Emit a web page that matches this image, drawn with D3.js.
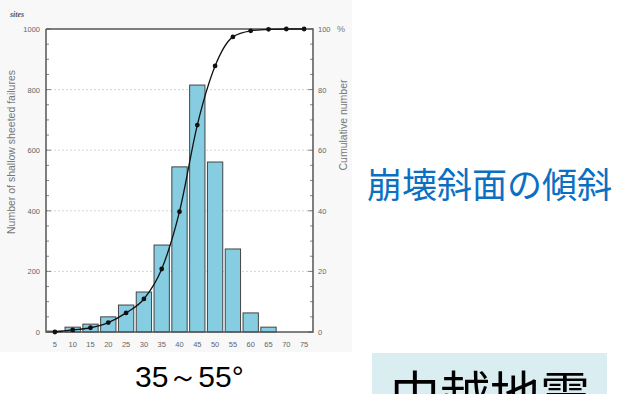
<!DOCTYPE html>
<html>
<head>
<meta charset="utf-8">
<script src="https://cdn.jsdelivr.net/npm/d3@7"></script>
<style>
  body { margin: 0; background: #fff; }
  svg { display: block; }
  .tick text { font-family: "Liberation Sans", Arial, sans-serif; font-size: 7.5px; fill: #666; }
</style>
</head>
<body>
<svg width="623" height="394"></svg>
<script>
// slope angle classes (degrees)
var angles = ["5", "10", "15", "20", "25", "30", "35", "40", "45", "50", "55", "60", "65", "70", "75"];
// number of shallow failures per class
var counts = [3, 16, 26, 50, 89, 132, 287, 545, 815, 561, 274, 63, 16, 0, 0];
// cumulative number (%)
var cumPct = [0, 0.7, 1.4, 3.1, 6.3, 10.9, 20.8, 39.7, 68.3, 87.8, 97.4, 99.4, 99.9, 100, 100];
var countTicks = [0, 200, 400, 600, 800, 1000];
var pctTicks = [0, 20, 40, 60, 80, 100];

var svg = d3.select("svg");

var pl = 46, pr = 313, pt = 29, pb = 332;

// light background of the figure picture
svg.append("rect")
    .attr("x", 0).attr("y", 0)
    .attr("width", 352).attr("height", 352)
    .attr("fill", "#f8f8f8");
svg.append("rect")
    .attr("x", pl).attr("y", pt)
    .attr("width", pr - pl).attr("height", pb - pt)
    .attr("fill", "#fff");

var x = d3.scaleBand().domain(angles).range([pl, pr]).paddingInner(0.14).paddingOuter(0.07);
var y = d3.scaleLinear().domain([0, 1000]).range([pb, pt]);
var yp = d3.scaleLinear().domain([0, 100]).range([pb, pt]);

// grid
svg.append("g")
    .selectAll("line")
    .data(countTicks.slice(1, -1))
    .enter().append("line")
    .attr("x1", pl).attr("x2", pr)
    .attr("y1", function(d) { return y(d); })
    .attr("y2", function(d) { return y(d); })
    .attr("stroke", "#ccc")
    .attr("stroke-width", 0.8)
    .attr("stroke-dasharray", "2,2");

// bars
svg.append("g")
    .selectAll("rect")
    .data(counts)
    .enter().append("rect")
    .attr("x", function(d, i) { return x(angles[i]); })
    .attr("y", function(d) { return y(d); })
    .attr("width", x.bandwidth())
    .attr("height", function(d) { return pb - y(d); })
    .attr("fill", "#86cde2")
    .attr("stroke", "#444")
    .attr("stroke-width", 1);

// axes
var leftAxis = d3.axisRight(y).tickValues(countTicks).tickSize(0).tickFormat(d3.format("d"));
var gl = svg.append("g").attr("transform", "translate(" + pl + ",0)").call(leftAxis);
gl.select(".domain").remove();
gl.selectAll("text").attr("x", -6).attr("text-anchor", "end");

var rightAxis = d3.axisLeft(yp).tickValues(pctTicks).tickSize(0);
var gr = svg.append("g").attr("transform", "translate(" + pr + ",0)").call(rightAxis);
gr.select(".domain").remove();
gr.selectAll("text").attr("x", 5).attr("text-anchor", "start");

var bottomAxis = d3.axisBottom(x).tickSize(0);
var gb = svg.append("g").attr("transform", "translate(0," + pb + ")").call(bottomAxis);
gb.select(".domain").remove();
gb.selectAll("text").attr("y", 10);

// minor / major tick marks pointing inward
svg.append("g")
    .selectAll("line")
    .data(d3.range(0, 1001, 50))
    .enter().append("line")
    .attr("x1", pl).attr("x2", function(d) { return pl + (d % 200 == 0 ? 5 : 3); })
    .attr("y1", function(d) { return y(d); }).attr("y2", function(d) { return y(d); })
    .attr("stroke", "#666").attr("stroke-width", 0.8);
svg.append("g")
    .selectAll("line")
    .data(d3.range(0, 101, 5))
    .enter().append("line")
    .attr("x1", pr).attr("x2", function(d) { return pr - (d % 20 == 0 ? 5 : 3); })
    .attr("y1", function(d) { return yp(d); }).attr("y2", function(d) { return yp(d); })
    .attr("stroke", "#666").attr("stroke-width", 0.8);

// frame: left, bottom, right and top lines
svg.append("path")
    .attr("d", "M" + pl + "," + pt + "V" + pb + "H" + pr + "V" + pt + "H" + pl)
    .attr("fill", "none")
    .attr("stroke", "#555")
    .attr("stroke-width", 1.5);

// cumulative curve
var line = d3.line()
    .x(function(d, i) { return x(angles[i]) + x.bandwidth() / 2; })
    .y(function(d) { return yp(d); })
    .curve(d3.curveMonotoneX);

svg.append("path")
    .datum(cumPct)
    .attr("d", line)
    .attr("fill", "none")
    .attr("stroke", "#111")
    .attr("stroke-width", 1.3);

svg.append("g")
    .selectAll("circle")
    .data(cumPct)
    .enter().append("circle")
    .attr("cx", function(d, i) { return x(angles[i]) + x.bandwidth() / 2; })
    .attr("cy", function(d) { return yp(d); })
    .attr("r", 2.4)
    .attr("fill", "#111");

// axis titles
svg.append("text")
    .attr("x", 10).attr("y", 17)
    .style("font-family", "'Liberation Serif', serif")
    .style("font-style", "italic")
    .style("font-weight", "bold")
    .style("font-size", "8px")
    .attr("fill", "#555")
    .text("sites");

svg.append("text")
    .attr("transform", "translate(15,152) rotate(-90)")
    .attr("text-anchor", "middle")
    .style("font-family", "'Liberation Sans', Arial, sans-serif")
    .style("font-size", "10.5px")
    .attr("fill", "#777")
    .text("Number of shallow sheeted failures");

svg.append("text")
    .attr("transform", "translate(347,125) rotate(-90)")
    .attr("text-anchor", "middle")
    .style("font-family", "'Liberation Sans', Arial, sans-serif")
    .style("font-size", "10.5px")
    .attr("fill", "#777")
    .text("Cumulative number");

svg.append("text")
    .attr("x", 337).attr("y", 32)
    .style("font-family", "'Liberation Sans', Arial, sans-serif")
    .style("font-size", "9px")
    .attr("fill", "#777")
    .text("%");

// slide annotations
svg.append("text")
    .attr("x", 367).attr("y", 198)
    .style("font-family", "'Noto Sans CJK JP', sans-serif")
    .style("font-size", "35px")
    .attr("fill", "#0b70c2")
    .text("崩壊斜面の傾斜");

svg.append("text")
    .attr("x", 135).attr("y", 387)
    .style("font-family", "'Liberation Sans', Arial, sans-serif")
    .style("font-size", "30px")
    .attr("fill", "#000")
    .text("35～55°");

svg.append("rect")
    .attr("x", 372).attr("y", 353)
    .attr("width", 235).attr("height", 41)
    .attr("fill", "#daedf1");

svg.append("text")
    .attr("x", 390).attr("y", 413)
    .style("font-family", "'Noto Sans CJK JP', sans-serif")
    .style("font-size", "50px")
    .attr("fill", "#000")
    .text("中越地震");
</script>
</body>
</html>
